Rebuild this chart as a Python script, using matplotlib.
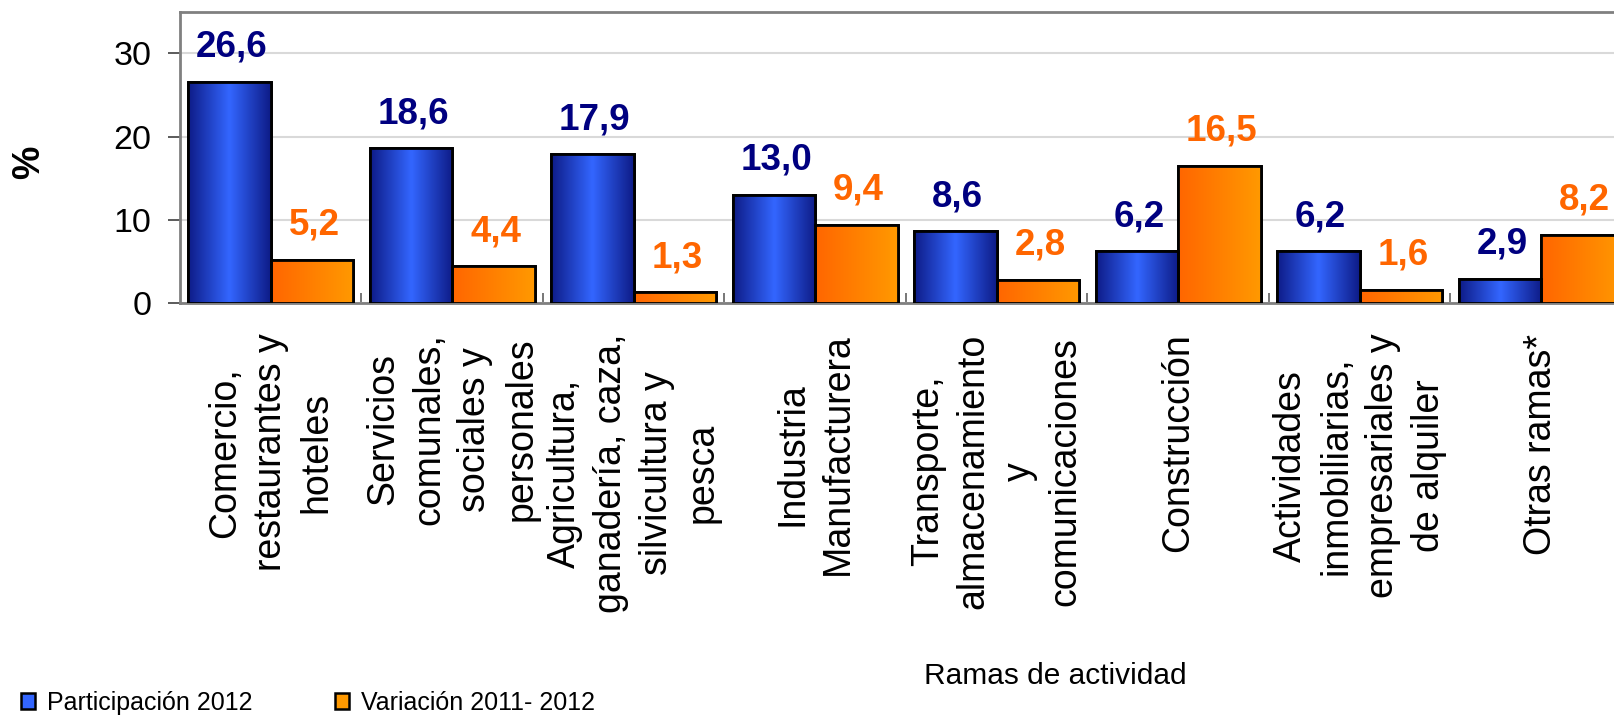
import matplotlib.pyplot as plt
import numpy as np
from matplotlib.patches import Patch

categories = [
    'Comercio,\nrestaurantes y\nhoteles',
    'Servicios\ncomunales,\nsociales y\npersonales',
    'Agricultura,\nganadería, caza,\nsilvicultura y\npesca',
    'Industria\nManufacturera',
    'Transporte,\nalmacenamiento\ny\ncomunicaciones',
    'Construcción',
    'Actividades\ninmobiliarias,\nempresariales y\nde alquiler',
    'Otras ramas*',
]
participacion = [26.6, 18.6, 17.9, 13.0, 8.6, 6.2, 6.2, 2.9]
variacion = [5.2, 4.4, 1.3, 9.4, 2.8, 16.5, 1.6, 8.2]
series_names = ['Participación 2012', 'Variación 2011- 2012']

plt.rcParams['font.family'] = ['Liberation Sans', 'DejaVu Sans']

fig = plt.figure(figsize=(16.15, 7.17), dpi=100)
ax = fig.add_axes([180 / 1615, 414 / 717, 1452 / 1615, 35 * 8.32 / 717])

x = np.arange(len(categories))
w = 0.455
blue_bars = ax.bar(x - w / 2, participacion, w, color='#2D55E0', edgecolor='black', lw=2, zorder=3)
orange_bars = ax.bar(x + w / 2, variacion, w, color='#FF8000', edgecolor='black', lw=2, zorder=3)

# gradient fills clipped to each bar
t = np.linspace(0, 1, 64)
dark = np.array([0x0E, 0x1C, 0x88]) / 255
bright = np.array([0x33, 0x66, 0xFF]) / 255
mix = 1 - np.abs(t - 0.5) * 2
blue_grad = (dark + (bright - dark) * mix[:, None])[None]
or_l = np.array([0xFF, 0x66, 0x00]) / 255
or_r = np.array([0xFF, 0x99, 0x00]) / 255
orange_grad = (or_l + (or_r - or_l) * t[:, None])[None]
for bars, grad in [(blue_bars, blue_grad), (orange_bars, orange_grad)]:
    for b in bars:
        x0, y0 = b.get_x(), b.get_y()
        im = ax.imshow(grad, extent=[x0, x0 + b.get_width(), y0, y0 + b.get_height()],
                       aspect='auto', zorder=3.5, interpolation='bilinear')
        im.set_clip_path(b)
        ax.bar(x0 + b.get_width() / 2, b.get_height(), b.get_width(),
               fill=False, edgecolor='black', lw=2, zorder=4)

for bars, vals, col in [(blue_bars, participacion, '#000080'), (orange_bars, variacion, '#FF6600')]:
    for b, v in zip(bars, vals):
        ax.annotate(f'{v:.1f}'.replace('.', ','), (b.get_x() + b.get_width() / 2, v),
                    xytext=(1.5, 18), textcoords='offset points', ha='center', va='baseline',
                    fontsize=26.5, fontweight='bold', color=col)

ax.set_xlim(-0.5, len(categories) - 0.5)
ax.set_ylim(0, 35)
ax.set_yticks([0, 10, 20, 30])
ax.tick_params(axis='y', labelsize=24.5, length=8.5, width=1.2, color='#404040', pad=12)
ax.set_xticks(x[:-1] + 0.5)
ax.set_xticklabels([])
ax.tick_params(axis='x', direction='in', length=7, width=1.2, color='#606060')
ax.grid(axis='y', color='#D9D9D9', lw=1.5, zorder=0)
ax.set_axisbelow(True)
for s in ['top', 'left', 'right', 'bottom']:
    ax.spines[s].set_color('#808080')
    ax.spines[s].set_linewidth(2)

for i, lab in enumerate(categories):
    ax.annotate(lab, (i, 0), xycoords=('data', 'axes fraction'), xytext=(0, -22),
                textcoords='offset points', rotation=90, ha='center', va='top',
                multialignment='center', fontsize=27, linespacing=1.36, annotation_clip=False)

fig.text(29 / 1615, 1 - 162 / 717, '%', rotation=90, ha='center', va='center',
         fontsize=27, fontweight='bold')
fig.text(1055 / 1615, 1 - 676 / 717, 'Ramas de actividad', ha='center', va='center', fontsize=21.5)

handles = [Patch(facecolor='#3366FF', edgecolor='black', lw=1.8),
           Patch(facecolor='#FF9900', edgecolor='black', lw=1.8)]
fig.legend(handles, series_names, loc='center left', bbox_to_anchor=(21 / 1615, 1 - 703 / 717),
           ncol=2, frameon=False, borderpad=0, borderaxespad=0,
           handlelength=0.56, handleheight=0.6, handletextpad=0.48,
           columnspacing=3.3, prop={'size': 18})

fig.savefig('out.png', dpi=100)
